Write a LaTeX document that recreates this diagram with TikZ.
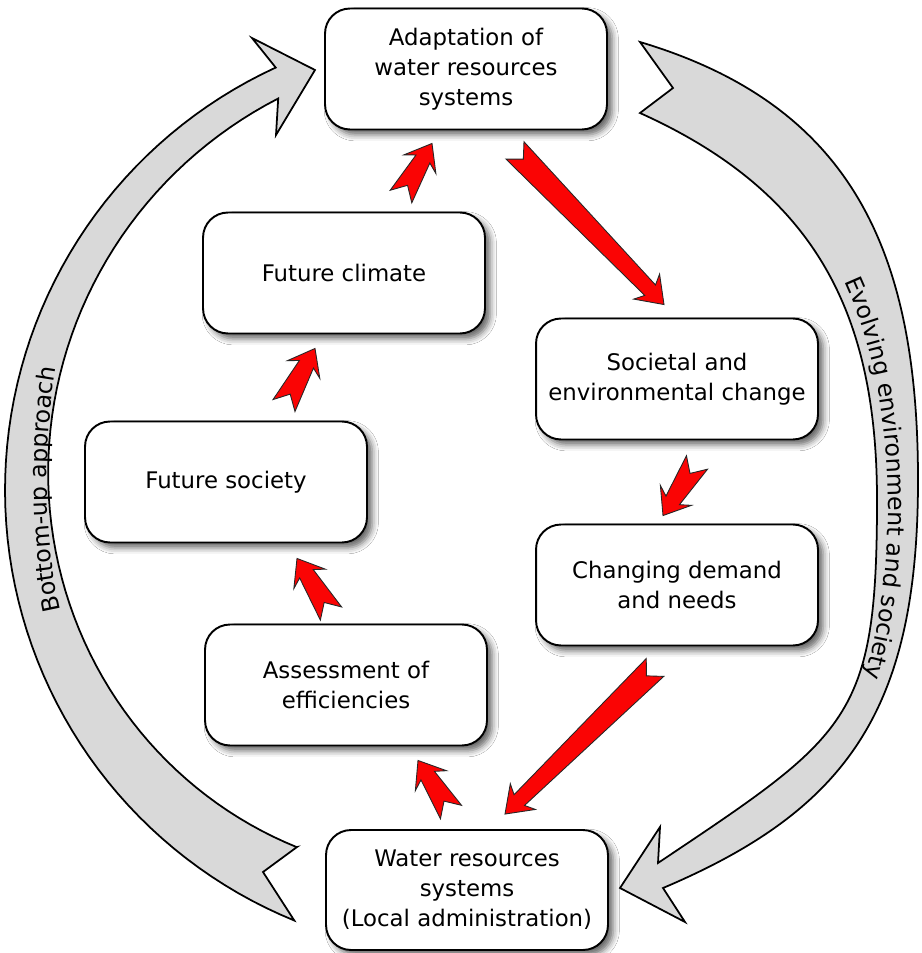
\documentclass[tikz,border=0pt]{standalone}
\usepackage{fontspec}
\setmainfont{DejaVu Sans}
\usetikzlibrary{calc,shadows.blur,decorations.text}
\definecolor{arcgray}{RGB}{217,217,217}
\definecolor{arrowred}{RGB}{250,4,4}
\newcommand\curvefont{\fontsize{13.5}{16}\selectfont}
\tikzset{
  declare function={rin(\t)=421.5-0.3047*(\t-180)-0.00122*(\t-180)^2;},
  box/.style={draw=black, line width=1.1pt, rounded corners=0.5cm, fill=white,
    minimum width=5.64cm, minimum height=2.42cm, align=center,
    font=\fontsize{13}{17}\selectfont,
    blur shadow={shadow xshift=3pt, shadow yshift=-3pt, shadow blur radius=3.5pt, shadow opacity=60}},
  band/.style={fill=arcgray, draw=black, line width=1pt, line join=miter},
  fat/.style n args={6}{to path={
     ($(\tikztostart)!#1!90:(\tikztotarget)$) -- ($(\tikztostart)!#2!(\tikztotarget)$)
     -- ($(\tikztostart)!#1!-90:(\tikztotarget)$)
     -- ($(\tikztotarget)!#5!(\tikztostart)!#3!90:(\tikztostart)$)
     -- ($(\tikztotarget)!#4!(\tikztostart)!#6!90:(\tikztostart)$)
     -- (\tikztotarget)
     -- ($(\tikztotarget)!#4!(\tikztostart)!#6!-90:(\tikztostart)$)
     -- ($(\tikztotarget)!#5!(\tikztostart)!#3!-90:(\tikztostart)$)
     -- cycle}},
  redarrow/.style={fill=arrowred, draw=black!85, line width=0.5pt, line join=miter},
  smallred/.style={redarrow, fat={0.25cm}{0.26cm}{0.16cm}{0.48cm}{0.36cm}{0.37cm}},
  longred/.style={redarrow, fat={0.25cm}{0.24cm}{0.15cm}{0.5cm}{0.4cm}{0.36cm}},
  curvetext/.style={decorate, decoration={text along path, text={|\curvefont|#1}, text align=center}},
}
\begin{document}
\begin{tikzpicture}[x=0.02cm, y=-0.02cm]
\fill[white] (0,0) rectangle (921,953);
\useasboundingbox (0,0) rectangle (921,953);

% left gray band: Bottom-up approach
\path[band] (297,847) -- (263,872)
  -- plot[domain=247.8:114.7, samples=70] ({470+465*cos(\x)}, {490-465*sin(\x)})
  -- (252,38) -- (315,70) -- (276,135)
  -- plot[domain=116.1:244.1, samples=70] ({470+rin(\x)*cos(\x)}, {490-rin(\x)*sin(\x)}) -- cycle;

% right gray band: Evolving environment and society
\path[band] (640,42) -- (673,88) -- (640,113)
  .. controls (813,191) and (877,310) .. (877,500)
  .. controls (877,720) and (849,735) .. (658,863)
  -- (660,827) -- (620,888) -- (685,922) -- (663,888)
  .. controls (847,810) and (918,710) .. (918,480)
  .. controls (918,250) and (851,105) .. (640,42) -- cycle;

% curved labels (drawn in an unreflected frame)
\begin{scope}[y=0.02cm]
\path[curvetext={Bottom-up approach}] (68,-640) .. controls (40,-550) and (42,-420) .. (62,-338);
\path[curvetext={Evolving environment and society}] (812,-225) .. controls (908,-355) and (908,-600) .. (842,-738);
\end{scope}

% boxes
\node[box] (A) at (466,69) {Adaptation of\\water resources\\systems};
\node[box] (C) at (344,273) {Future climate};
\node[box] (S) at (226,482) {Future society};
\node[box] (E) at (346,685) {Assessment of\\efficiencies};
\node[box, minimum height=2.4cm] (W) at (467,890) {Water resources\\systems\\(Local administration)};
\node[box] (SE) at (677,379) {Societal and\\environmental change};
\node[box] (D) at (677,585) {Changing demand\\and needs};

% red arrow end points
\coordinate (t1) at ($(A.south)+(49,20)$);   \coordinate (h1) at ($(SE.north)+(-13,-13)$);
\coordinate (t2) at ($(SE.south)+(20,22)$);  \coordinate (h2) at ($(D.north)+(-14,-8)$);
\coordinate (t3) at ($(D.south)+(-22,21)$);  \coordinate (h3) at ($(W.north)+(38,-15)$);
\coordinate (t4) at ($(W.north)+(-16,-17)$); \coordinate (h4) at ($(E.south)+(72,14)$);
\coordinate (t5) at ($(E.north)+(-15,-10)$); \coordinate (h5) at ($(S.south)+(71,15)$);
\coordinate (t6) at ($(S.north)+(58,-15)$);  \coordinate (h6) at ($(C.south)+(-29,14)$);
\coordinate (t7) at ($(C.north)+(57,-15)$);  \coordinate (h7) at ($(A.south)+(-34,13)$);

\path[longred]  (t1) to (h1);
\path[smallred] (t2) to (h2);
\path[longred]  (t3) to (h3);
\path[smallred] (t4) to (h4);
\path[smallred] (t5) to (h5);
\path[smallred] (t6) to (h6);
\path[smallred] (t7) to (h7);
\end{tikzpicture}
\end{document}
